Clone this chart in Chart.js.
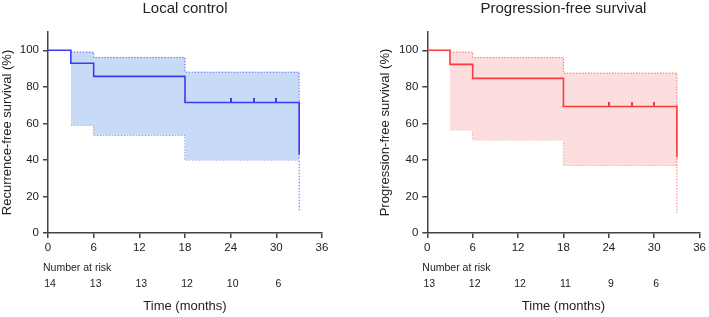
<!DOCTYPE html>
<html>
<head>
<meta charset="utf-8">
<script src="https://cdn.jsdelivr.net/npm/chart.js@4.4.1/dist/chart.umd.min.js"></script>
<style>
body{margin:0;background:#fff;}
#wrap{position:relative;width:709px;height:317px;}
.box{position:absolute;top:0;height:317px;}
</style>
</head>
<body>
<div id="wrap">
  <div class="box" style="left:0;width:354px"><canvas id="c1"></canvas></div>
  <div class="box" style="left:354px;width:355px"><canvas id="c2"></canvas></div>
</div>
<script>
// local control (left)
const lcTime=[0,3,6,18,33,33]
const lcSurv=[100,92.9,85.7,71.4,71.4,43]
const lcCiTime=[3,6,18,33,33]
const lcUpper=[99,96,88,88,40]
const lcLower=[59,53.5,40,40,12]
const lcCensor=[24,27,30]
const lcRisk=[14,13,13,12,10,6]

// progression-free survival (right)
const pfsTime=[0,3,6,18,33,33]
const pfsSurv=[100,92.3,84.6,69.2,69.2,41.5]
const pfsCiTime=[3,6,18,33,33]
const pfsUpper=[99,96,87.5,87.5,37]
const pfsLower=[56.5,51,37,37,11]
const pfsCensor=[24,27,30]
const pfsRisk=[13,12,12,11,9,6]

const riskTimes=[0,6,12,18,24,30]
const xTicks=[0,6,12,18,24,30,36]

const FONT='"Liberation Sans", Arial, sans-serif'
const TXT='#222'

function pts(xs,ys){ return xs.map((x,i)=>({x:x,y:ys[i]})) }

function censorMark(color){
  let c=document.createElement('canvas')
  c.width=2; c.height=10
  let g=c.getContext('2d')
  g.fillStyle=color
  g.fillRect(0,0,2,5)
  return c
}

const riskPlugin={
  id:'risk',
  afterDraw(chart){
    const o=chart.options.plugins.risk
    const ctx=chart.ctx, xs=chart.scales.x
    ctx.save()
    ctx.fillStyle=TXT
    ctx.font='10.5px '+FONT
    ctx.textBaseline='middle'
    ctx.textAlign='left'
    ctx.fillText('Number at risk',chart.chartArea.left-5,268)
    ctx.textAlign='center'
    o.values.forEach((v,i)=>{
      ctx.fillText(String(v),xs.getPixelForValue(riskTimes[i])+2,284)
    })
    ctx.restore()
  }
}

function makeChart(id,cfg){
  new Chart(document.getElementById(id),{
    type:'line',
    data:{
      datasets:[
        {data:pts(cfg.time,cfg.surv),stepped:true,borderColor:cfg.line,borderWidth:1.6,pointRadius:0,fill:false},
        {data:cfg.censor.map(t=>({x:t,y:cfg.surv[3]})),showLine:false,pointStyle:censorMark(cfg.line),pointRadius:5,fill:false},
        {data:pts(cfg.ciTime,cfg.upper),stepped:true,borderColor:cfg.dot,borderWidth:1,borderDash:[1.5,1.5],pointRadius:0,fill:'+1',backgroundColor:cfg.fill},
        {data:pts(cfg.ciTime,cfg.lower),stepped:true,borderColor:cfg.dot,borderWidth:1,borderDash:[1.5,1.5],pointRadius:0,fill:false}
      ]
    },
    options:{
      responsive:true,
      maintainAspectRatio:false,
      animation:false,
      layout:{padding:{left:cfg.padLeft,right:cfg.padRight,top:0,bottom:3}},
      plugins:{
        legend:{display:false},
        tooltip:{enabled:false},
        title:{display:true,text:cfg.title,fullSize:false,color:TXT,font:{family:FONT,size:15,weight:'normal'},padding:{top:0,bottom:14}},
        risk:{values:cfg.risk}
      },
      scales:{
        x:{
          type:'linear',min:0,max:36,
          afterBuildTicks(s){ s.ticks=xTicks.map(v=>({value:v})) },
          afterFit(s){ s.height=81 },
          grid:{drawOnChartArea:false,drawTicks:true,tickLength:5,color:'#444',lineWidth:1.5},
          border:{color:'#444',width:1.5},
          ticks:{color:TXT,font:{family:FONT,size:11.5},padding:3,maxRotation:0},
          title:{display:true,text:'Time (months)',color:TXT,font:{family:FONT,size:13},padding:{top:0,bottom:0}}
        },
        y:{
          min:0,max:110,
          afterBuildTicks(s){ s.ticks=[0,20,40,60,80,100].map(v=>({value:v})) },
          afterFit(s){ s.width=cfg.yWidth },
          grid:{drawOnChartArea:false,drawTicks:true,tickLength:5,color:'#444',lineWidth:1.5},
          border:{color:'#444',width:1.5},
          ticks:{color:TXT,font:{family:FONT,size:11.5},padding:4},
          title:{display:true,text:cfg.yTitle,color:TXT,font:{family:FONT,size:13},padding:{top:0,bottom:0}}
        }
      }
    },
    plugins:[riskPlugin]
  })
}

makeChart('c1',{
  title:'Local control',yTitle:'Recurrence-free survival (%)',
  time:lcTime,surv:lcSurv,ciTime:lcCiTime,upper:lcUpper,lower:lcLower,censor:lcCensor,risk:lcRisk,
  line:'#3b3bf2',dot:'#5a70f0',fill:'#c8dbf6',
  padLeft:0,padRight:32,yWidth:48
})
makeChart('c2',{
  title:'Progression-free survival',yTitle:'Progression-free survival (%)',
  time:pfsTime,surv:pfsSurv,ciTime:pfsCiTime,upper:pfsUpper,lower:pfsLower,censor:pfsCensor,risk:pfsRisk,
  line:'#fb3b3b',dot:'#f87272',fill:'#fddede',
  padLeft:23.5,padRight:7.7,yWidth:49.8
})
</script>
</body>
</html>
